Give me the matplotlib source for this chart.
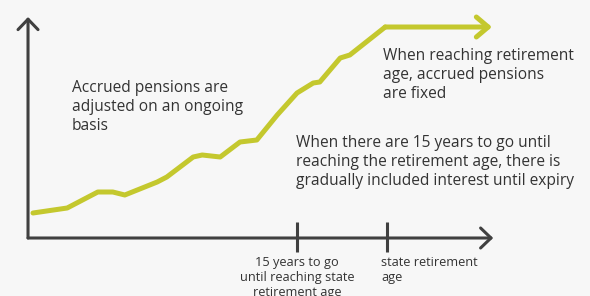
import matplotlib
matplotlib.use("Agg")
import matplotlib.pyplot as plt

# years along the working life, accrued pension (arbitrary units)
years = [1.0, 6.7, 11.8, 14.3, 16.3, 21.7, 23.3, 27.7, 29.2, 32.2, 35.5, 38.3,
         41.7, 45.0, 47.7, 48.8, 52.2, 53.8, 59.7, 77.5]
pension = [25, 30, 46, 46, 43, 56, 61, 81, 83, 81, 96, 98,
           123, 145, 155, 156, 180, 183, 211, 211]

tick_years = [45, 60]
tick_labels = ["15 years to go\nuntil reaching state\nretirement age",
               "state retirement\nage"]

notes = [
    "Accrued pensions are\nadjusted on an ongoing\nbasis",
    "When reaching retirement\nage, accrued pensions\nare fixed",
    "When there are 15 years to go until\nreaching the retirement age, there is\ngradually included interest until expiry",
]

BG = "#f7f7f7"
AXIS = "#404040"
GREEN = "#c4c82e"
TEXT = "#333333"

plt.rcParams["font.family"] = ["Open Sans", "DejaVu Sans"]

fig = plt.figure(figsize=(5.9, 2.96), dpi=100, facecolor=BG)
ax = fig.add_axes([0, 0, 1, 1])
ax.set_facecolor(BG)
ax.set_xlim(-4.5, 93.83)
ax.set_ylim(-58, 238)
ax.axis("off")

# axes drawn by hand with open arrowheads
head = "->,head_length=0.75,head_width=0.72"
ax.annotate("", xy=(77.7, 0), xytext=(0.17, 0),
            arrowprops=dict(arrowstyle=head, lw=2.2, color=AXIS,
                            shrinkA=0, shrinkB=0, mutation_scale=10))
ax.annotate("", xy=(0.17, 221), xytext=(0.17, 0),
            arrowprops=dict(arrowstyle=head, lw=2.2, color=AXIS,
                            shrinkA=0, shrinkB=0, mutation_scale=10))
ax.vlines(tick_years, -14, 16, color=AXIS, lw=2.2)

for x, lab in zip(tick_years, tick_labels):
    if x == 60:
        ax.text(x - 1.0, -18, lab, ha="left", va="top", fontsize=9.2,
                color=TEXT, linespacing=1.2)
    else:
        ax.text(x, -18, lab, ha="center", va="top", fontsize=9.2,
                color=TEXT, linespacing=1.2)

# pension line
ax.plot(years[:-1], pension[:-1], color=GREEN, lw=3.6,
        solid_joinstyle="round", solid_capstyle="round")
ax.annotate("", xy=(years[-1], pension[-1]), xytext=(years[-2], pension[-2]),
            arrowprops=dict(arrowstyle="->,head_length=0.85,head_width=0.72",
                            lw=3.6, color=GREEN, shrinkA=0, shrinkB=0,
                            mutation_scale=10))

ax.text(7.5, 158, notes[0], ha="left", va="top", fontsize=11.2,
        color=TEXT, linespacing=1.27)
ax.text(59.3, 190, notes[1], ha="left", va="top", fontsize=11.2,
        color=TEXT, linespacing=1.27)
ax.text(44.8, 103, notes[2], ha="left", va="top", fontsize=11.2,
        color=TEXT, linespacing=1.27)

fig.savefig("out.png", dpi=100, facecolor=BG)
